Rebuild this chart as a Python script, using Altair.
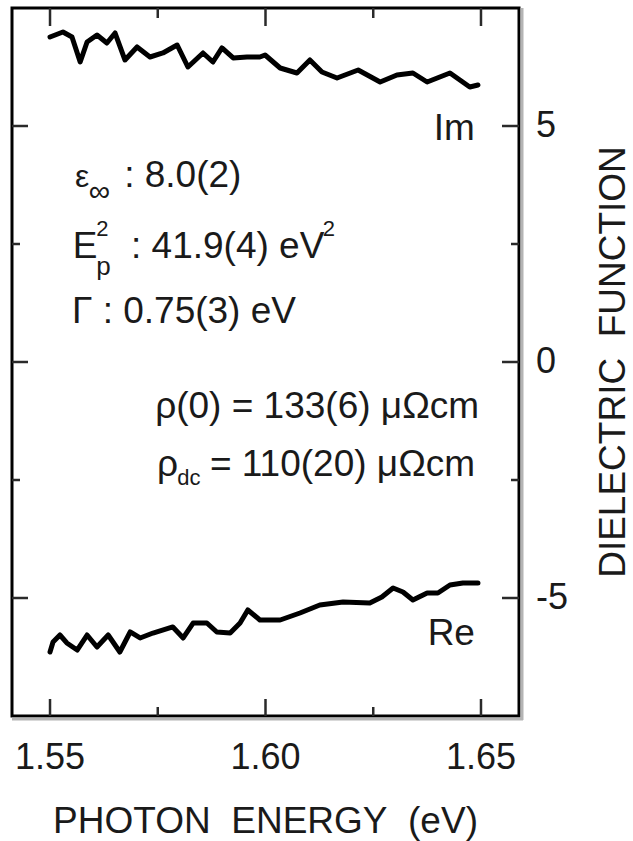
import altair as alt
import pandas as pd

# ---- data ----
im_energy = [1.5500, 1.5530, 1.5551, 1.5570, 1.5586, 1.5609, 1.5632, 1.5651, 1.5674, 1.5702,
             1.5732, 1.5762, 1.5795, 1.5820, 1.5855, 1.5878, 1.5899, 1.5925, 1.5957, 1.5987,
             1.5999, 1.6034, 1.6073, 1.6103, 1.6131, 1.6166, 1.6215, 1.6266, 1.6305, 1.6342,
             1.6375, 1.6428, 1.6451, 1.6474, 1.6493]
im_value = [6.886, 6.992, 6.886, 6.356, 6.780, 6.928, 6.758, 6.970, 6.398, 6.674,
            6.462, 6.547, 6.716, 6.250, 6.547, 6.356, 6.653, 6.441, 6.462, 6.462,
            6.504, 6.229, 6.123, 6.398, 6.144, 6.017, 6.186, 5.932, 6.081, 6.123,
            5.932, 6.123, 5.975, 5.826, 5.869]

re_energy = [1.5500, 1.5507, 1.5523, 1.5539, 1.5563, 1.5586, 1.5609, 1.5635, 1.5662, 1.5686,
             1.5709, 1.5739, 1.5785, 1.5809, 1.5832, 1.5864, 1.5887, 1.5918, 1.5941, 1.5959,
             1.5987, 1.6034, 1.6080, 1.6126, 1.6180, 1.6242, 1.6270, 1.6296, 1.6319, 1.6342,
             1.6375, 1.6400, 1.6428, 1.6458, 1.6493]
re_value = [-6.144, -5.932, -5.784, -5.953, -6.102, -5.784, -6.038, -5.784, -6.144, -5.720,
            -5.847, -5.742, -5.614, -5.847, -5.530, -5.530, -5.720, -5.742, -5.530, -5.254,
            -5.466, -5.466, -5.318, -5.148, -5.085, -5.106, -4.979, -4.788, -4.873, -5.042,
            -4.894, -4.894, -4.725, -4.682, -4.682]

x_major = [1.55, 1.60, 1.65]
x_minor = [1.575, 1.625]
x_tick_labels = ["1.55", "1.60", "1.65"]
y_major = [5, 0, -5]
y_minor = [2.5, -2.5]
y_tick_labels = ["5", "0", "-5"]

NB = "\u00a0"
x_title = "PHOTON" + NB + NB + "ENERGY" + NB + NB + "(eV)"
y_title = "DIELECTRIC" + NB + NB + "FUNCTION"

series_names = ["Im", "Re"]

ann_text = ["ε", "∞", ": 8.0(2)", "E", "2", "p", ": 41.9(4) eV", "2",
            "Γ : 0.75(3) eV", "ρ(0) = 133(6) μΩcm", "ρ", "dc", "= 110(20) μΩcm"]
ann_x = [1.5558, 1.5590, 1.5672, 1.5553, 1.5607, 1.5607, 1.5688, 1.6133,
         1.5551, 1.5744, 1.5748, 1.5795, 1.5871]
ann_y = [3.708, 3.411, 3.708, 2.203, 2.669, 1.843, 2.203, 2.669,
         0.826, -1.186, -2.415, -2.606, -2.415]
ann_size = [32, 30, 37, 37, 22, 26, 37, 22, 37, 37, 37, 22, 37]

lab_x = [1.6486, 1.6486]
lab_y = [4.703, -5.996]

# ---- layout ----
W, H = 507, 708
FONT = "Liberation Sans"
INK = "#1a1a1a"

xs = alt.Scale(domain=[1.54118, 1.65882], nice=False, zero=False)
ys = alt.Scale(domain=[-7.5, 7.5], nice=False, zero=False)

rows = []
for i, (e, v) in enumerate(zip(im_energy, im_value)):
    rows.append({"E": e, "v": v, "series": "Im", "i": i})
for i, (e, v) in enumerate(zip(re_energy, re_value)):
    rows.append({"E": e, "v": v, "series": "Re", "i": i})
curves = pd.DataFrame(rows)

lines = alt.Chart(curves).mark_line(
    color="black", strokeWidth=5, strokeJoin="round", strokeCap="round"
).encode(
    x=alt.X("E:Q", scale=xs, axis=None),
    y=alt.Y("v:Q", scale=ys, axis=None),
    detail="series:N",
    order="i:Q",
)

TICK = "#2a2a2a"
xmaj = pd.DataFrame({"t": x_major, "label": x_tick_labels})
xmin = pd.DataFrame({"t": x_minor})
ymaj = pd.DataFrame({"t": y_major, "label": y_tick_labels})
ymin = pd.DataFrame({"t": y_minor})

def xticks(df, y0, y1):
    return alt.Chart(df).mark_rule(color=TICK, strokeWidth=2.5).encode(
        x=alt.X("t:Q", scale=xs, axis=None), y=alt.value(y0), y2=alt.value(y1))

def yticks(df, x0, x1):
    return alt.Chart(df).mark_rule(color=TICK, strokeWidth=2.5).encode(
        y=alt.Y("t:Q", scale=ys, axis=None), x=alt.value(x0), x2=alt.value(x1))

ticks = [
    xticks(xmaj, H, H - 17), xticks(xmin, H, H - 9),
    xticks(xmaj, 0, 18), xticks(xmin, 0, 10),
    yticks(ymaj, 0, 16), yticks(ymin, 0, 8),
    yticks(ymaj, W, W - 17), yticks(ymin, W, W - 8),
]

# tick labels (as text marks placed by the scales)
xlabels = alt.Chart(xmaj).mark_text(
    align="center", baseline="alphabetic", font=FONT, fontSize=36, color=INK
).encode(x=alt.X("t:Q", scale=xs, axis=None), y=alt.value(H + 53), text="label:N")

ylabels = alt.Chart(ymaj).mark_text(
    align="left", baseline="middle", font=FONT, fontSize=36, color=INK
).encode(y=alt.Y("t:Q", scale=ys, axis=None), x=alt.value(W + 17), text="label:N")

one = pd.DataFrame({"a": [0]})
xtitle = alt.Chart(pd.DataFrame({"label": [x_title]})).mark_text(
    align="center", baseline="alphabetic", font=FONT, fontSize=37, color=INK
).encode(x=alt.value(W / 2), y=alt.value(H + 117), text="label:N")

ytitle = alt.Chart(pd.DataFrame({"label": [y_title]})).mark_text(
    align="center", baseline="alphabetic", font=FONT, fontSize=37, color=INK, angle=270
).encode(x=alt.value(W + 106), y=alt.value(H / 2), text="label:N")

shadow_b = alt.Chart(one).mark_rule(color="#b4b4b4", strokeWidth=3).encode(
    x=alt.value(0), x2=alt.value(W + 4), y=alt.value(H + 3))
shadow_r = alt.Chart(one).mark_rule(color="#b4b4b4", strokeWidth=3).encode(
    x=alt.value(W + 3), y=alt.value(0), y2=alt.value(H + 4))

ann = pd.DataFrame({"text": ann_text, "x": ann_x, "y": ann_y, "fs": ann_size})
notes = alt.Chart(ann).mark_text(
    align="left", baseline="alphabetic", font=FONT, color=INK
).encode(
    x=alt.X("x:Q", scale=xs, axis=None),
    y=alt.Y("y:Q", scale=ys, axis=None),
    text="text:N",
    size=alt.Size("fs:Q", scale=None, legend=None),
)

labs = pd.DataFrame({"text": series_names, "x": lab_x, "y": lab_y})
series_labels = alt.Chart(labs).mark_text(
    align="right", baseline="alphabetic", font=FONT, color=INK, fontSize=37
).encode(
    x=alt.X("x:Q", scale=xs, axis=None),
    y=alt.Y("y:Q", scale=ys, axis=None),
    text="text:N",
)

chart = alt.layer(
    lines, *ticks, shadow_b, shadow_r, xlabels, ylabels, xtitle, ytitle, notes, series_labels
).properties(
    width=W, height=H, autosize="none",
    padding={"left": 12, "top": 8, "right": 114, "bottom": 125},
    background="white",
).configure_view(stroke="black", strokeWidth=3)

chart.save("out.html", embed_options={"renderer": "svg", "actions": False})
